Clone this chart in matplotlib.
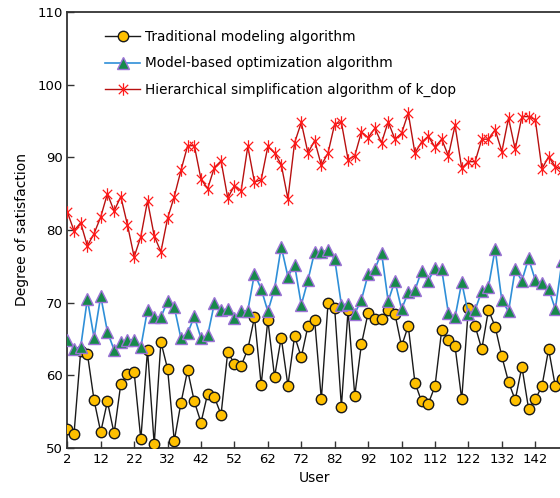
import numpy as np
import matplotlib
matplotlib.use("Agg")
import matplotlib.pyplot as plt
from matplotlib.path import Path

users = np.arange(2, 151, 2)

traditional = [52.6, 51.9, 63.3, 63.0, 56.6, 52.2, 56.4, 52.0, 58.8, 60.2, 60.4, 51.2, 63.5, 50.5, 64.6,
               60.9, 51.0, 56.2, 60.7, 56.4, 53.5, 57.5, 57.0, 54.6, 63.2,
               61.6, 61.3, 63.6, 68.0, 58.7, 67.6, 59.8, 65.2, 58.6, 65.4, 62.5, 66.8, 67.6, 56.7, 69.9,
               69.2, 55.7, 69.0, 57.2, 64.3, 68.6, 67.8, 67.7, 69.0,
               68.5, 64.0, 66.8, 59.0, 56.4, 56.1, 58.5, 66.2, 64.9, 64.0, 56.7, 69.3, 66.8, 63.6, 69.0,
               66.7, 62.6, 59.1, 56.6, 61.2, 55.4, 56.7, 58.5, 63.6, 58.5, 59.5]

model_based = [64.9, 63.6, 63.9, 70.5, 65.2, 70.9, 66.0, 63.5, 64.6, 64.9, 64.9, 63.9, 69.0, 68.0, 68.0,
               70.2, 69.4, 65.1, 65.8, 68.1, 65.1, 65.5, 69.9, 69.0, 69.1,
               67.9, 68.8, 68.9, 74.0, 71.9, 68.8, 71.9, 77.7, 73.6, 75.2, 69.7, 73.1, 77.0, 77.0, 77.2,
               76.0, 69.7, 69.8, 68.5, 70.4, 73.9, 74.6, 76.9, 70.2,
               73.0, 69.1, 71.4, 71.7, 74.4, 73.0, 74.8, 74.6, 68.6, 68.0, 72.8, 68.4, 69.0, 71.6, 72.2,
               77.4, 70.3, 68.8, 74.6, 73.0, 76.1, 73.1, 72.7, 71.9, 69.1, 75.7]

hierarchical = [82.5, 79.9, 81.0, 77.8, 79.5, 81.8, 85.0, 82.6, 84.6, 80.7, 76.3, 79.1, 84.0, 79.2, 77.0,
                81.6, 84.6, 88.2, 91.6, 91.6, 87.0, 85.7, 88.6, 89.5, 84.4,
                86.1, 85.4, 91.5, 86.6, 86.9, 91.5, 90.6, 89.0, 84.3, 92.0, 94.8, 90.6, 92.3, 88.9, 90.6,
                94.6, 94.8, 89.7, 90.2, 93.5, 92.7, 94.0, 92.0, 94.9,
                92.5, 93.3, 96.1, 90.6, 92.1, 92.9, 91.4, 92.5, 90.2, 94.4, 88.5, 89.4, 89.4, 92.5, 92.5,
                93.8, 90.8, 95.4, 91.1, 95.6, 95.6, 95.2, 88.4, 90.1, 88.7, 88.3]

labels = ["Traditional modeling algorithm",
          "Model-based optimization algorithm",
          "Hierarchical simplification algorithm of k_dop"]

xticks = list(range(2, 151, 10))
yticks = list(range(50, 111, 10))

plt.rcParams['font.family'] = ['DejaVu Sans']

fig = plt.figure(figsize=(5.6, 4.98), dpi=100)
W, H = 560, 498
left_px, right_px, top_px, bot_px = 67.3, 562.0, 12.0, 448.0
ax = fig.add_axes([left_px / W, 1 - bot_px / H, (right_px - left_px) / W, (bot_px - top_px) / H])

star = Path([(0, -1), (0, 1), (-0.75, -0.75), (0.75, 0.75), (-0.75, 0.75), (0.75, -0.75)],
            [Path.MOVETO, Path.LINETO, Path.MOVETO, Path.LINETO, Path.MOVETO, Path.LINETO])

ax.plot(users, traditional, color='#1a1a1a', lw=1.0, marker='o', markersize=7.5,
        markerfacecolor='#FFC000', markeredgecolor='#1a1a1a', markeredgewidth=1.0,
        label=labels[0], zorder=3)
ax.plot(users, model_based, color='#2F8FD8', lw=1.2, marker='^', markersize=8,
        markerfacecolor='#178A4A', markeredgecolor='#9B72D6', markeredgewidth=1.0,
        label=labels[1], zorder=3)
ax.plot(users, hierarchical, color='#B81010', lw=1.0, marker=star, markersize=9,
        markerfacecolor='none', markeredgecolor='#FF1A1A', markeredgewidth=0.9,
        label=labels[2], zorder=3)

ax.set_xlim(2, 150)
ax.set_ylim(50, 110)
ax.set_xticks(xticks)
ax.set_yticks(yticks)
ax.tick_params(direction='in', length=5, width=1, labelsize=9.5, colors='#333333', labelcolor='black')
for s in ax.spines.values():
    s.set_color('#333333')
    s.set_linewidth(1.3)

ax.set_xlabel('User', fontsize=10, labelpad=4)
ax.set_ylabel('Degree of satisfaction', fontsize=10, labelpad=6)

leg = ax.legend(loc='upper left', bbox_to_anchor=(0.065, 0.971), frameon=False, fontsize=9.8,
                handlelength=2.6, handletextpad=0.35, labelspacing=0.9, borderaxespad=0)

fig.savefig('out.png', dpi=100)
